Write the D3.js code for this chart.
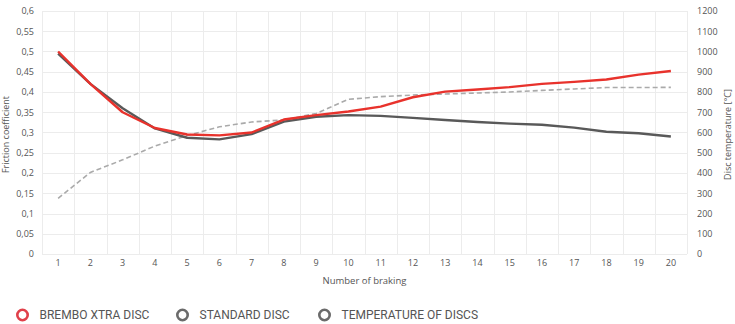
<!DOCTYPE html>
<html>
<head>
<meta charset="utf-8">
<script src="https://cdn.jsdelivr.net/npm/d3@7/dist/d3.min.js"></script>
<style>
  html, body { margin: 0; padding: 0; background: #fff; }
  svg { display: block; }
  .tick text { fill: #555; }
</style>
</head>
<body>
<svg id="chart" width="735" height="324"></svg>
<script>
// Braking cycles on the x axis
const brakings = d3.range(1, 21);

// Friction coefficient per braking
const bremboXtra = [0.50, 0.42, 0.35, 0.311, 0.295, 0.293, 0.30, 0.332, 0.343, 0.352, 0.364, 0.387, 0.401, 0.406, 0.412, 0.420, 0.425, 0.431, 0.443, 0.452];
const standardDisc = [0.495, 0.42, 0.36, 0.31, 0.287, 0.283, 0.296, 0.327, 0.339, 0.343, 0.341, 0.336, 0.331, 0.326, 0.322, 0.319, 0.312, 0.302, 0.298, 0.290];

// Disc temperature [°C] per braking
const discTemperature = [275, 403, 465, 533, 585, 628, 652, 662, 694, 764, 777, 785, 790, 795, 800, 808, 815, 822, 822, 823];

// Axis ticks
const frictionTicks = d3.range(0, 0.6001, 0.05);
const temperatureTicks = d3.range(0, 1201, 100);

const legendItems = [
  { label: "BREMBO XTRA DISC", color: "#e0404a" },
  { label: "STANDARD DISC", color: "#6b6b6b" },
  { label: "TEMPERATURE OF DISCS", color: "#6b6b6b" }
];

const svg = d3.select("#chart");
const plot = { left: 42, right: 687, top: 11, bottom: 254 };
const font = "'Open Sans', sans-serif";

const x = d3.scaleBand().domain(brakings).range([plot.left, plot.right]);
const yL = d3.scaleLinear().domain([0, 0.6]).range([plot.bottom, plot.top]);
const yR = d3.scaleLinear().domain([0, 1200]).range([plot.bottom, plot.top]);
const cx = d => x(d) + x.bandwidth() / 2;

// Grid
const grid = svg.append("g").attr("stroke", "#ececec").attr("stroke-width", 1);
grid.selectAll("line.h").data(frictionTicks).join("line")
  .attr("x1", plot.left).attr("x2", plot.right)
  .attr("y1", d => Math.round(yL(d)) + 0.5).attr("y2", d => Math.round(yL(d)) + 0.5);
grid.selectAll("line.v").data(brakings.concat([21])).join("line")
  .attr("x1", d => Math.round(d === 21 ? plot.right : x(d)) + 0.5)
  .attr("x2", d => Math.round(d === 21 ? plot.right : x(d)) + 0.5)
  .attr("y1", plot.top).attr("y2", plot.bottom);

// Axes
const fmtComma = d => d3.format(".2~f")(d).replace(".", ",");
const leftAxis = svg.append("g").attr("transform", `translate(${plot.left - 8},0)`)
  .call(d3.axisLeft(yL).tickValues(frictionTicks).tickFormat(fmtComma).tickSize(0).tickPadding(0));
const rightAxis = svg.append("g").attr("transform", `translate(${plot.right + 10},0)`)
  .call(d3.axisRight(yR).tickValues(temperatureTicks).tickFormat(d3.format("d")).tickSize(0).tickPadding(0));
const bottomAxis = svg.append("g").attr("transform", `translate(0,${plot.bottom + 6})`)
  .call(d3.axisBottom(x).tickSize(0).tickPadding(0));
[leftAxis, rightAxis, bottomAxis].forEach(g => {
  g.select(".domain").remove();
  g.selectAll("text").attr("font-family", font).attr("font-size", 9).attr("fill", "#555");
});
bottomAxis.selectAll("text").attr("dy", "0.71em");

// Axis titles
svg.append("text").attr("x", (plot.left + plot.right) / 2).attr("y", 284)
  .attr("text-anchor", "middle").attr("font-family", font).attr("font-size", 9.5).attr("fill", "#555")
  .text("Number of braking");
svg.append("text").attr("transform", `translate(9,${(plot.top + plot.bottom) / 2 + 2}) rotate(-90)`)
  .attr("text-anchor", "middle").attr("font-family", font).attr("font-size", 9).attr("fill", "#555")
  .text("Friction coefficient");
svg.append("text").attr("transform", `translate(731,${(plot.top + plot.bottom) / 2 + 2}) rotate(-90)`)
  .attr("text-anchor", "middle").attr("font-family", font).attr("font-size", 9).attr("fill", "#555")
  .text("Disc temperature [°C]");

// Series
const lineL = d3.line().x((d, i) => cx(brakings[i])).y(d => yL(d));
const lineR = d3.line().x((d, i) => cx(brakings[i])).y(d => yR(d));

svg.append("path").datum(discTemperature).attr("d", lineR)
  .attr("fill", "none").attr("stroke", "#aaaaaa").attr("stroke-width", 1.6)
  .attr("stroke-dasharray", "5,3");
svg.append("path").datum(standardDisc).attr("d", lineL)
  .attr("fill", "none").attr("stroke", "#595959").attr("stroke-width", 2.4)
  .attr("stroke-linejoin", "round");
svg.append("path").datum(bremboXtra).attr("d", lineL)
  .attr("fill", "none").attr("stroke", "#e8322c").attr("stroke-width", 2.4)
  .attr("stroke-linejoin", "round");

// Legend
const legendX = [22.5, 182.5, 324.5];
const legend = svg.append("g").selectAll("g").data(legendItems).join("g")
  .attr("transform", (d, i) => `translate(${legendX[i]},315)`);
legend.append("circle").attr("r", 5.2).attr("fill", "none")
  .attr("stroke", d => d.color).attr("stroke-width", 2.6);
legend.append("text").attr("x", 17).attr("y", 0).attr("dy", "0.36em")
  .attr("font-family", "Roboto, sans-serif").attr("font-size", 12).attr("fill", "#555")
  .text(d => d.label);
</script>
</body>
</html>
